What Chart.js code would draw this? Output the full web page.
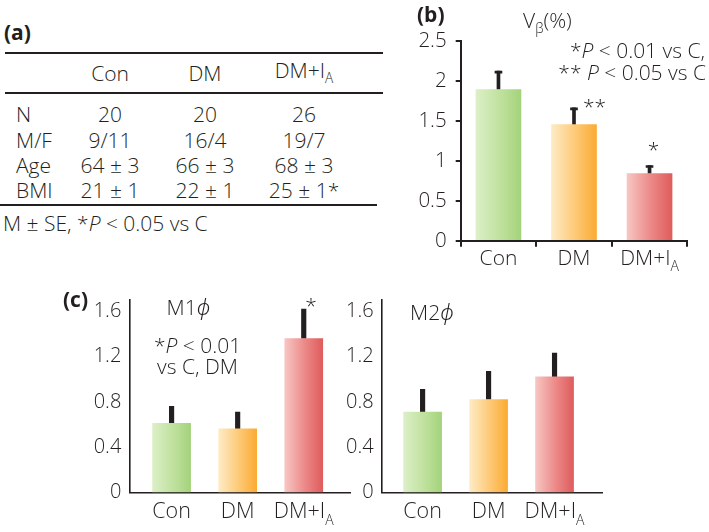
<!DOCTYPE html>
<html><head><meta charset="utf-8">
<script src="https://cdn.jsdelivr.net/npm/chart.js@4.4.1/dist/chart.umd.min.js"></script>
<style>
html,body{margin:0;padding:0;background:#fff;}
#root{position:relative;width:709px;height:532px;overflow:hidden;font-family:'Open Sans','DejaVu Sans',sans-serif;font-weight:300;color:#231f20;}
.t{position:absolute;white-space:nowrap;z-index:5;}
.rule{position:absolute;height:2px;background:#231f20;}
canvas{position:absolute;}
sub{font-size:0.65em;vertical-align:-0.33em;line-height:0;}
.phi{font-family:'Noto Sans','DejaVu Sans',sans-serif;font-style:italic;font-weight:300;}
</style></head>
<body>
<div id="root">
  <canvas id="cb" width="309" height="275" style="left:400px;top:0px;"></canvas>
  <canvas id="cm1" width="320" height="252" style="left:40px;top:280px;"></canvas>
  <canvas id="cm2" width="300" height="252" style="left:330px;top:280px;"></canvas>
</div>
<script>
// ---------- data ----------
const categories = ['Con', 'DM', 'DM+I_A'];
// (a) table
const tableRows = ['N', 'M/F', 'Age', 'BMI'];
const tableCon  = ['20', '9/11', '64 ± 3', '21 ± 1'];
const tableDM   = ['20', '16/4', '66 ± 3', '22 ± 1'];
const tableDMIA = ['26', '19/7', '68 ± 3', '25 ± 1*'];
// (b) Vβ(%)
const vbMean  = [1.89, 1.45, 0.84];
const vbSE    = [0.23, 0.21, 0.10];
const vbTicks = [0, 0.5, 1, 1.5, 2, 2.5];
const vbSig   = ['', '**', '*'];
// (c) M1φ and M2φ
const m1Mean = [0.61, 0.56, 1.36];
const m1SE   = [0.15, 0.15, 0.26];
const m1Sig  = ['', '', '*'];
const m2Mean = [0.71, 0.82, 1.02];
const m2SE   = [0.20, 0.25, 0.21];
const cTicks = [0, 0.4, 0.8, 1.2, 1.6];

// ---------- styles ----------
const INK = '#231f20';
const FAM = "'Open Sans', 'DejaVu Sans', sans-serif";
const TXT = 21;
const palettes = [
  ['#dcefc7', '#bfe19d', '#a4d37b'],
  ['#feebc5', '#fdc874', '#fbab33'],
  ['#f7c6c3', '#eb8786', '#df5c5c']
];
const root = document.getElementById('root');

function put(html, x, base, size, align, weight) {
  size = size || TXT; weight = weight || 300;
  const d = document.createElement('div');
  d.className = 't';
  d.innerHTML = html;
  d.style.left = x + 'px';
  d.style.top = (base - 0.888 * size) + 'px';
  d.style.fontSize = size + 'px';
  d.style.lineHeight = size + 'px';
  d.style.fontWeight = weight;
  if (align === 'center') d.style.transform = 'translateX(-50%)';
  if (align === 'right') d.style.transform = 'translateX(-100%)';
  root.appendChild(d);
}
function rule(x, y, w) {
  const d = document.createElement('div');
  d.className = 'rule';
  d.style.left = x + 'px'; d.style.top = y + 'px'; d.style.width = w + 'px';
  root.appendChild(d);
}
const subHtml = s => s.replace(/_(.+)$/, '<sub>$1</sub>');

// ---------- (a) table ----------
put('(a)', 4, 41, TXT, 'left', 700);
rule(5, 52, 378);
rule(5, 92, 378);
rule(0, 204, 377);
const colX = [110, 205, 304];
const headBase = [81.5, 81.5, 78.5];
categories.forEach((c, i) => put(subHtml(c), colX[i], headBase[i], TXT, 'center'));
const rowBase = [123, 148.5, 173.5, 198.5];
const cols = [tableCon, tableDM, tableDMIA];
tableRows.forEach((r, j) => {
  put(r, 16, rowBase[j], TXT, 'left');
  cols.forEach((col, i) => put(col[j], colX[i], rowBase[j], TXT, 'center'));
});
put('M ± SE, *<i>P</i> &lt; 0.05 vs C', 3, 232, TXT, 'left');

// ---------- (b) annotations ----------
put('(b)', 417, 22.5, TXT, 'left', 700);
put('V<sub>β</sub>(%)', 523, 28.5, TXT, 'left');
put('*<i>P</i> &lt; 0.01 vs C,', 705, 59, TXT, 'right');
put('** <i>P</i> &lt; 0.05 vs C', 706, 81, TXT, 'right');
put(vbSig[1], 594.5, 114.3, TXT, 'center');
put(vbSig[2], 653.5, 157.6, TXT, 'center');

// ---------- (c) annotations ----------
put('(c)', 63, 308, TXT, 'left', 700);
put('M1<span class="phi">ϕ</span>', 166.5, 316, TXT, 'left');
put('*<i>P</i> &lt; 0.01', 154, 353.3, TXT, 'left');
put('vs C, DM', 157, 375, TXT, 'left');
put(m1Sig[2], 311, 313.6, TXT, 'center');
put('M2<span class="phi">ϕ</span>', 410, 321, TXT, 'left');

// ---------- chart helpers ----------
function gradFill(barW) {
  return (ctx) => {
    const xs = ctx.chart.scales.x;
    if (!xs || ctx.dataIndex === undefined) return palettes[0][1];
    const p = palettes[ctx.dataIndex];
    const cx = xs.getPixelForValue(ctx.dataIndex);
    if (!Number.isFinite(cx)) return p[1];
    const g = ctx.chart.ctx.createLinearGradient(cx - barW / 2, 0, cx + barW / 2, 0);
    g.addColorStop(0, p[0]); g.addColorStop(0.55, p[1]); g.addColorStop(1, p[2]);
    return g;
  };
}
const subLabels = {
  id: 'subLabels',
  afterDraw(chart, args, o) {
    const xs = chart.scales.x, c = chart.ctx;
    c.save();
    c.fillStyle = INK; c.textBaseline = 'alphabetic'; c.textAlign = 'left';
    categories.forEach((lab, i) => {
      const parts = lab.split('_');
      const mainF = `300 ${o.size}px ${FAM}`, subF = `300 ${o.subSize}px ${FAM}`;
      c.font = mainF; const w1 = c.measureText(parts[0]).width;
      let w2 = 0;
      if (parts[1]) { c.font = subF; w2 = c.measureText(parts[1]).width; }
      const x0 = xs.getPixelForValue(i) - (w1 + w2) / 2;
      const y = xs.top + o.offset;
      c.font = mainF; c.fillText(parts[0], x0, y);
      if (parts[1]) { c.font = subF; c.fillText(parts[1], x0 + w1, y + o.subShift); }
    });
    c.restore();
  }
};
const baseOpts = {
  responsive: false, animation: false, events: [],
  plugins: { legend: { display: false }, tooltip: { enabled: false } }
};
const plainNum = v => String(v);

// ---------- (b) chart ----------
const capB = 0.025;
new Chart(document.getElementById('cb'), {
  type: 'bar',
  data: {
    labels: categories,
    datasets: [
      { data: vbMean, backgroundColor: gradFill(45), barThickness: 45, grouped: false },
      { data: vbMean.map((v, i) => [v, v + vbSE[i]]), backgroundColor: INK, barThickness: 3, grouped: false },
      { data: vbMean.map((v, i) => [v + vbSE[i] - capB, v + vbSE[i]]), backgroundColor: INK, barThickness: 7, grouped: false }
    ]
  },
  options: Object.assign({}, baseOpts, {
    layout: { padding: { top: 40.7, right: 21.7, left: 0, bottom: 0 } },
    plugins: Object.assign({}, baseOpts.plugins, { subLabels: { size: 21, subSize: 14, offset: 24.5, subShift: 6 } }),
    scales: {
      x: {
        grid: { offset: true, drawOnChartArea: false, drawTicks: true, tickLength: 6, color: INK, lineWidth: 2 },
        border: { display: true, color: INK, width: 2 },
        ticks: { display: false },
        afterFit: s => { s.height = 34.3; }
      },
      y: {
        min: 0, max: 2.5,
        afterBuildTicks: ax => { ax.ticks = vbTicks.map(v => ({ value: v })); },
        grid: { drawOnChartArea: false, drawTicks: true, tickLength: 5, color: INK, lineWidth: 2 },
        border: { display: true, color: INK, width: 2 },
        ticks: { color: INK, padding: 9, callback: plainNum, font: { family: FAM, size: 20.5, weight: '300' } },
        afterFit: s => { s.width = 60.7; }
      }
    }
  }),
  plugins: [subLabels]
});

// ---------- (c) charts ----------
function panelC(id, mean, se, xmin, xmax, yWidth, padRight) {
  return new Chart(document.getElementById(id), {
    type: 'bar',
    data: {
      datasets: [
        { data: mean.map((v, i) => ({ x: i, y: v })), backgroundColor: gradFill(38), barThickness: 38, grouped: false },
        { data: mean.map((v, i) => ({ x: i, y: [v, v + se[i]] })), backgroundColor: INK, barThickness: 4.5, grouped: false }
      ]
    },
    options: Object.assign({}, baseOpts, {
      layout: { padding: { top: 15.8, right: padRight, left: 0, bottom: 0 } },
      plugins: Object.assign({}, baseOpts.plugins, { subLabels: { size: 21.5, subSize: 14, offset: 26, subShift: 7 } }),
      scales: {
        x: {
          type: 'linear', offset: false, min: xmin, max: xmax,
          afterBuildTicks: ax => { ax.ticks = categories.map((_, i) => ({ value: i })); },
          grid: { display: false, drawTicks: false },
          border: { display: true, color: INK, width: 1.6 },
          ticks: { display: false },
          afterFit: s => { s.height = 39.7; }
        },
        y: {
          min: 0, max: 1.7,
          afterBuildTicks: ax => { ax.ticks = cTicks.map(v => ({ value: v })); },
          grid: { display: false, drawTicks: false },
          border: { display: true, color: INK, width: 1.6 },
          ticks: { color: INK, padding: 8, callback: plainNum, font: { family: FAM, size: 20, weight: '300' } },
          afterFit: s => { s.width = yWidth; }
        }
      }
    }),
    plugins: [subLabels]
  });
}
panelC('cm1', m1Mean, m1SE, -0.64, 2.70, 89.3, 10);
panelC('cm2', m2Mean, m2SE, -0.62, 2.73, 51.7, 27.3);
</script>
</body></html>
